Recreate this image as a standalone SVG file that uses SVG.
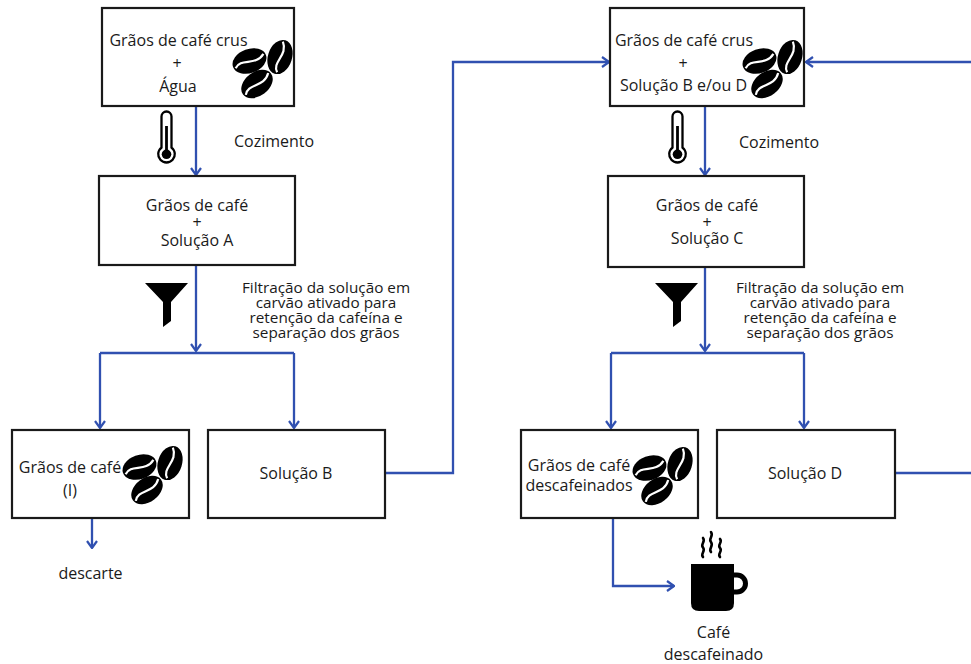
<svg xmlns="http://www.w3.org/2000/svg" xmlns:xlink="http://www.w3.org/1999/xlink" width="971" height="664" viewBox="0 0 971 664">
<style>
.box{fill:#fff;stroke:#1a1a1a;stroke-width:2.2}
.t{font-family:"Open Sans","Noto Sans","Liberation Sans",sans-serif;font-size:16px;fill:#1a1a1a}
.f{font-size:15.3px}
.c{text-anchor:middle}
.con{fill:none;stroke:#3050B0;stroke-width:2.3}
</style>
<defs>
<marker id="arr" viewBox="0 0 9 12" refX="8" refY="6" markerWidth="9" markerHeight="12" orient="auto" markerUnits="userSpaceOnUse">
<path d="M1,1 L8,6 L1,11" fill="none" stroke="#3050B0" stroke-width="2.2"/>
</marker>
<g id="bean">
<ellipse cx="0" cy="0" rx="17.5" ry="12" fill="#000"/>
<path d="M-15.5,2 C-7,-6.5 4,7.5 15.5,-2" fill="none" stroke="#fff" stroke-width="2.2"/>
</g>
<g id="beans">
<use xlink:href="#bean" transform="translate(17.5,19) rotate(-20)"/>
<use xlink:href="#bean" transform="translate(48,15) rotate(-72)"/>
<use xlink:href="#bean" transform="translate(25,42) rotate(-37)"/>
</g>
<g id="thermo">
<path d="M161.5,147.6 V116.5 A5,5 0 0 1 171.5,116.5 V147.6 A8.3,8.3 0 1 1 161.5,147.6 Z" fill="#fff" stroke="#000" stroke-width="2.3"/>
<rect x="165.1" y="126" width="2.8" height="26" fill="#000"/>
<circle cx="166.5" cy="154.3" r="4.8" fill="#000"/>
</g>
<polygon id="funnel" points="145,283 188,283 171,302 171,321 163,327 163,302" fill="#000"/>
</defs>

<g id="connectors">
<path class="con" d="M196,106 V175" marker-end="url(#arr)"/>
<path class="con" d="M196,265 V351" marker-end="url(#arr)"/>
<path class="con" d="M100,353 H294"/>
<path class="con" d="M100,353 V428" marker-end="url(#arr)"/>
<path class="con" d="M294,353 V428" marker-end="url(#arr)"/>
<path class="con" d="M92,519 V548" marker-end="url(#arr)"/>
<path class="con" d="M385,473 H453 V62 H609" marker-end="url(#arr)"/>
<path class="con" d="M971,62 H806" marker-end="url(#arr)"/>
<path class="con" d="M705,106 V175" marker-end="url(#arr)"/>
<path class="con" d="M705,267 V351" marker-end="url(#arr)"/>
<path class="con" d="M611,353 H804"/>
<path class="con" d="M611,353 V428" marker-end="url(#arr)"/>
<path class="con" d="M804,353 V428" marker-end="url(#arr)"/>
<path class="con" d="M895,473 H971"/>
<path class="con" d="M613,519 V586 H674" marker-end="url(#arr)"/>
</g>

<g id="node-graos-crus-agua">
<rect class="box" x="102" y="8" width="192" height="98"/>
<text class="t c" x="178.5" y="46">Grãos de café crus</text>
<text class="t c" x="177" y="68.5">+</text>
<text class="t c" x="178" y="92">Água</text>
<use xlink:href="#beans" transform="translate(232,42)"/>
</g>

<g id="cozimento-1">
<use xlink:href="#thermo"/>
<text class="t" x="234" y="147">Cozimento</text>
</g>

<g id="node-graos-solucao-a">
<rect class="box" x="99" y="176" width="196" height="89"/>
<text class="t c" x="197" y="211">Grãos de café</text>
<text class="t c" x="197" y="227.5">+</text>
<text class="t c" x="197" y="245.5">Solução A</text>
</g>

<g id="filtracao-1">
<use xlink:href="#funnel"/>
<text class="t f c" x="326" y="293">Filtração da solução em</text>
<text class="t f c" x="326" y="308">carvão ativado para</text>
<text class="t f c" x="326" y="323">retenção da cafeína e</text>
<text class="t f c" x="326" y="338">separação dos grãos</text>
</g>

<g id="node-graos-i">
<rect class="box" x="12" y="430" width="177" height="88"/>
<text class="t c" x="70" y="473">Grãos de café</text>
<text class="t c" x="70" y="495.5">(I)</text>
<use xlink:href="#beans" transform="translate(122,448)"/>
</g>

<g id="node-descarte">
<text class="t c" x="90.5" y="578.5">descarte</text>
</g>

<g id="node-solucao-b">
<rect class="box" x="208" y="430" width="177" height="88"/>
<text class="t c" x="296" y="479">Solução B</text>
</g>

<g id="node-graos-crus-bd">
<rect class="box" x="610" y="8" width="194" height="98"/>
<text class="t c" x="684" y="46">Grãos de café crus</text>
<text class="t c" x="683" y="68.5">+</text>
<text class="t c" x="683.5" y="91">Solução B e/ou D</text>
<use xlink:href="#beans" transform="translate(742,42)"/>
</g>

<g id="cozimento-2">
<use xlink:href="#thermo" transform="translate(511,0)"/>
<text class="t" x="739" y="148">Cozimento</text>
</g>

<g id="node-graos-solucao-c">
<rect class="box" x="608" y="176" width="196" height="91"/>
<text class="t c" x="707" y="210.5">Grãos de café</text>
<text class="t c" x="707" y="227.5">+</text>
<text class="t c" x="707" y="244">Solução C</text>
</g>

<g id="filtracao-2">
<use xlink:href="#funnel" transform="translate(510,0)"/>
<text class="t f c" x="820" y="293">Filtração da solução em</text>
<text class="t f c" x="820" y="308">carvão ativado para</text>
<text class="t f c" x="820" y="323">retenção da cafeína e</text>
<text class="t f c" x="820" y="338">separação dos grãos</text>
</g>

<g id="node-graos-descafeinados">
<rect class="box" x="521" y="430" width="177" height="88"/>
<text class="t c" x="579" y="470.5">Grãos de café</text>
<text class="t c" x="579" y="491">descafeinados</text>
<use xlink:href="#beans" transform="translate(632,449)"/>
</g>

<g id="node-solucao-d">
<rect class="box" x="717" y="430" width="178" height="88"/>
<text class="t c" x="805" y="479">Solução D</text>
</g>

<g id="node-cafe-descafeinado">
<path d="M691,564 H734 V603 Q734,611 726,611 H699 Q691,611 691,603 Z" fill="#000"/>
<path d="M734,575 h3 a8.5,8.5 0 0 1 0,17 h-3" fill="none" stroke="#000" stroke-width="5"/>
<path d="M703,557 c-3,-3 3,-6 0,-9.5 c-3,-3 3,-6 0,-9.5" fill="none" stroke="#000" stroke-width="2.6" stroke-linecap="round"/>
<path d="M711,552 c-3,-3 3,-6 0,-10 c-3,-3 3,-6 0,-10" fill="none" stroke="#000" stroke-width="2.6" stroke-linecap="round"/>
<path d="M720,557 c-3,-3 3,-6 0,-9 c-3,-3 3,-6 0,-9" fill="none" stroke="#000" stroke-width="2.6" stroke-linecap="round"/>
<text class="t c" x="713.5" y="638">Café</text>
<text class="t c" x="713.5" y="660">descafeinado</text>
</g>
</svg>
